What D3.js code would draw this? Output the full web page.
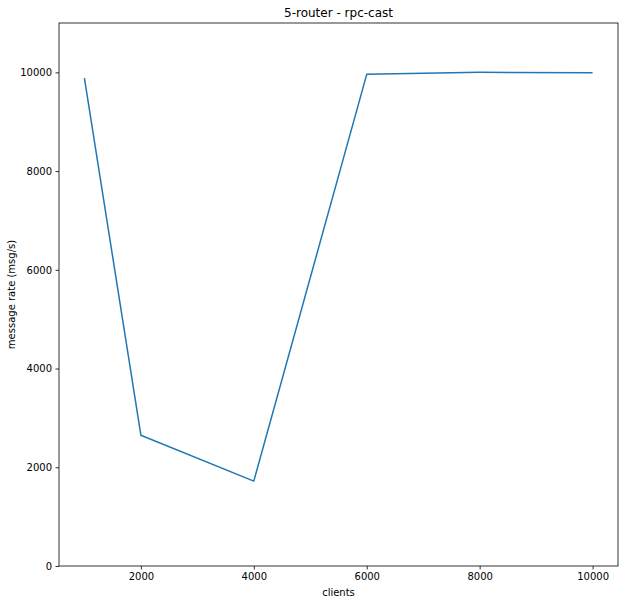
<!DOCTYPE html>
<html>
<head>
<meta charset="utf-8">
<script src="https://cdn.jsdelivr.net/npm/d3@7"></script>
<style>
  body { margin: 0; background: #fff; }
  text { font-family: "DejaVu Sans", sans-serif; }
</style>
</head>
<body>
<svg id="chart" width="628" height="604"></svg>
<script>
// data
var clients = [1000, 2000, 4000, 6000, 8000, 10000];
var rates = [9885, 2650, 1720, 9960, 10000, 9990];
var xTicks = [2000, 4000, 6000, 8000, 10000];
var yTicks = [0, 2000, 4000, 6000, 8000, 10000];

var svg = d3.select("#chart");
var m = {left: 59, right: 10, top: 23, bottom: 38};
var w = 628 - m.left - m.right,
    h = 604 - m.top - m.bottom;

var x = d3.scaleLinear().domain([550, 10450]).range([0, w]);
var y = d3.scaleLinear().domain([0, 11000]).range([h, 0]);

var g = svg.append("g").attr("transform", "translate(" + m.left + "," + m.top + ")");

var line = d3.line()
    .x(function(d, i) { return x(clients[i]); })
    .y(function(d) { return y(d); });

g.append("path")
    .datum(rates)
    .attr("fill", "none")
    .attr("stroke", "#1f77b4")
    .attr("stroke-width", 1.5)
    .attr("stroke-linejoin", "round")
    .attr("d", line);

// frame
g.append("rect")
    .attr("width", w).attr("height", h)
    .attr("fill", "none").attr("stroke", "#000").attr("stroke-width", 0.8);

var xAxis = g.append("g")
    .attr("transform", "translate(0," + h + ")")
    .call(d3.axisBottom(x).tickValues(xTicks).tickSize(3.5).tickPadding(3.5).tickFormat(d3.format("d")));
var yAxis = g.append("g")
    .call(d3.axisLeft(y).tickValues(yTicks).tickSize(3.5).tickPadding(3.5).tickFormat(d3.format("d")));

[xAxis, yAxis].forEach(function(a) {
    a.select(".domain").remove();
    a.selectAll("line").attr("stroke", "#000").attr("stroke-width", 0.8);
    a.selectAll("text").attr("fill", "#000").style("font-size", "10px")
        .style("font-family", "DejaVu Sans");
});

svg.append("text")
    .attr("x", m.left + w / 2).attr("y", 17)
    .attr("text-anchor", "middle")
    .style("font-size", "12px")
    .text("5-router - rpc-cast");

svg.append("text")
    .attr("x", m.left + w / 2).attr("y", 596)
    .attr("text-anchor", "middle")
    .style("font-size", "10px")
    .text("clients");

svg.append("text")
    .attr("transform", "translate(15," + (m.top + h / 2) + ") rotate(-90)")
    .attr("text-anchor", "middle")
    .style("font-size", "10px")
    .text("message rate (msg/s)");
</script>
</body>
</html>
